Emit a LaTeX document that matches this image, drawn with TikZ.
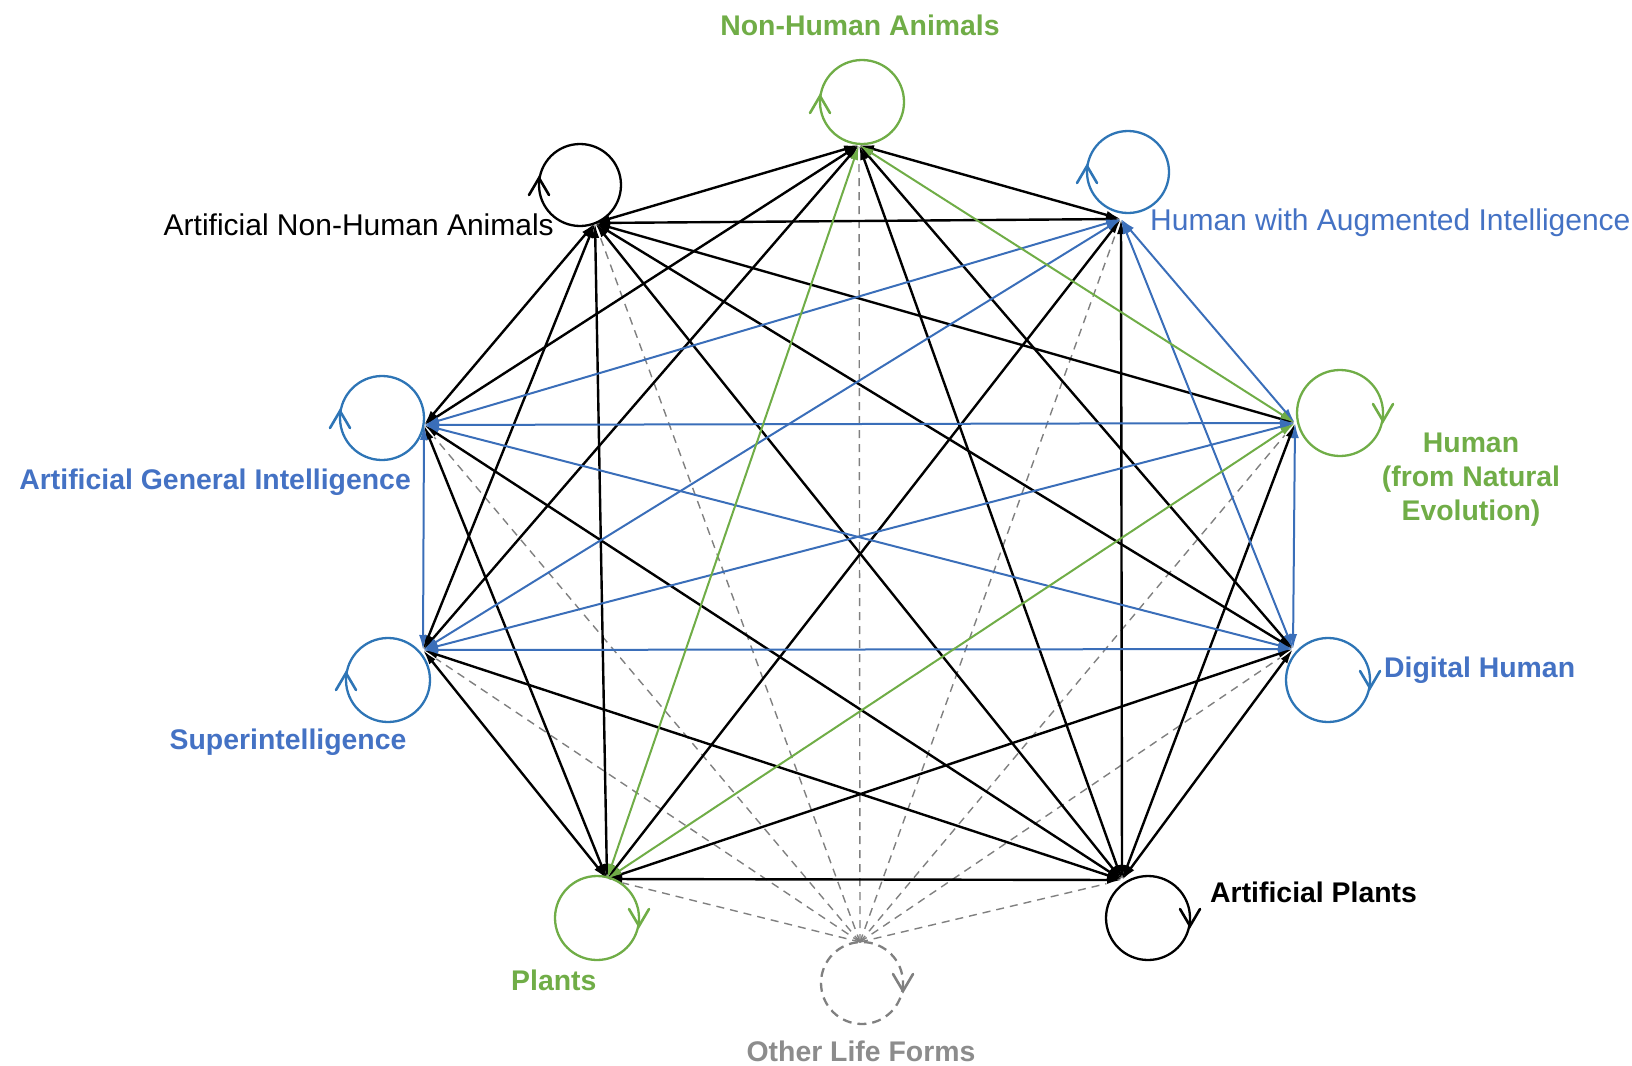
\documentclass[tikz,border=0pt]{standalone}
\usepackage{fontspec}
\setmainfont{Liberation Sans}
\usetikzlibrary{arrows.meta}
\definecolor{cgreen}{RGB}{112,173,71}
\definecolor{cblue}{RGB}{68,114,196}
\definecolor{lblue}{RGB}{58,110,185}
\definecolor{loopblue}{RGB}{46,117,182}
\definecolor{cgray}{RGB}{128,128,128}
\definecolor{tgray}{RGB}{140,140,140}
\tikzset{
  tip/.tip={Latex[length=15pt,width=8pt]},
  blk/.style={draw=black, line width=2.4pt, tip-tip},
  blu/.style={draw=lblue, line width=2pt, tip-tip},
  grn/.style={draw=cgreen, line width=2pt, tip-tip},
  dsh/.style={draw=cgray, line width=1.4pt, dash pattern=on 8pt off 6pt, shorten >=16pt},
  loopline/.style={line width=2.3pt},
  vmark/.style={line width=2.6pt, line cap=round, line join=miter},
  lbold/.style={font=\fontsize{28.4}{34}\selectfont\bfseries, inner sep=0pt},
  lreg/.style={font=\fontsize{30}{36}\selectfont, inner sep=0pt},
}
% open V arrow marks: up-pointing and down-pointing at the given tip
\newcommand\myupv[3]{\draw[vmark,#3] ({#1-10},{#2+17}) -- (#1,#2) -- ({#1+10},{#2+17});}
\newcommand\mydownv[3]{\draw[vmark,#3] ({#1-10},{#2-17}) -- (#1,#2) -- ({#1+10},{#2-17});}
\begin{document}
\begin{tikzpicture}[x=1pt,y=-1pt]
\useasboundingbox (0,0) rectangle (1632,1065);
% vertices
\coordinate (nha) at (859,145);
\coordinate (hai) at (1121,219);
\coordinate (hum) at (1295,423);
\coordinate (dh) at (1293,649);
\coordinate (ap) at (1122,880);
\coordinate (oth) at (860,942);
\coordinate (pl) at (607,879);
\coordinate (si) at (423,650);
\coordinate (agi) at (424,425);
\coordinate (anha) at (595,223);
% dashed edges from other life forms
\foreach \v in {nha,hai,hum,dh,ap,pl,si,agi,anha}
  \draw[dsh] (oth) -- (\v);
% black edges
\draw[blk] (nha) -- (hai);
\draw[blk] (nha) -- (dh);
\draw[blk] (nha) -- (ap);
\draw[blk] (nha) -- (si);
\draw[blk] (nha) -- (agi);
\draw[blk] (nha) -- (anha);
\draw[blk] (hai) -- (ap);
\draw[blk] (hai) -- (pl);
\draw[blk] (hai) -- (anha);
\draw[blk] (hum) -- (ap);
\draw[blk] (hum) -- (anha);
\draw[blk] (dh) -- (ap);
\draw[blk] (dh) -- (pl);
\draw[blk] (dh) -- (anha);
\draw[blk] (ap) -- (pl);
\draw[blk] (ap) -- (si);
\draw[blk] (ap) -- (agi);
\draw[blk] (ap) -- (anha);
\draw[blk] (pl) -- (si);
\draw[blk] (pl) -- (agi);
\draw[blk] (pl) -- (anha);
\draw[blk] (si) -- (anha);
\draw[blk] (agi) -- (anha);
% blue edges
\draw[blu] (hai) -- (hum);
\draw[blu] (hai) -- (dh);
\draw[blu] (hai) -- (si);
\draw[blu] (hai) -- (agi);
\draw[blu] (hum) -- (dh);
\draw[blu] (hum) -- (si);
\draw[blu] (hum) -- (agi);
\draw[blu] (dh) -- (si);
\draw[blu] (dh) -- (agi);
\draw[blu] (si) -- (agi);
% green edges
\draw[grn] (nha) -- (hum);
\draw[grn] (nha) -- (pl);
\draw[grn] (hum) -- (pl);
% self loops
\draw[loopline, cgreen] (862,102) circle (42);
\myupv{820}{96}{cgreen}
\draw[loopline, loopblue] (1128,172) circle (41);
\myupv{1087}{166}{loopblue}
\draw[loopline, cgreen] (1340,413) circle (43);
\mydownv{1383}{421}{cgreen}
\draw[loopline, loopblue] (1328,680) circle (42);
\mydownv{1370}{688}{loopblue}
\draw[loopline, black] (1148,918) circle (42);
\mydownv{1190}{926}{black}
\draw[loopline, cgray, dash pattern=on 9pt off 6pt] (862,983) circle (41);
\mydownv{903}{991}{cgray}
\draw[loopline, cgreen] (597,918) circle (42);
\mydownv{639}{926}{cgreen}
\draw[loopline, loopblue] (388,680) circle (42);
\myupv{346}{673}{loopblue}
\draw[loopline, loopblue] (382,418) circle (42);
\myupv{340}{411}{loopblue}
\draw[loopline, black] (580,185) circle (41);
\myupv{539}{178}{black}
% labels
\node[lbold, text=cgreen, anchor=base] (tnha) at (860,36) {Non-Human Animals};
\node[lreg, text=black, anchor=base east] (tanha) at (554,235) {Artificial Non-Human Animals};
\node[lreg, text=cblue, anchor=base west] (thai) at (1150,230) {Human with Augmented Intelligence};
\node[lbold, text=cblue, anchor=base east] (tagi) at (411,489) {Artificial General Intelligence};
\node[lbold, text=cgreen, align=center, anchor=north] (thum) at (1471,433) {Human\\(from Natural\\Evolution)};
\node[lbold, text=cblue, anchor=base west] (tdh) at (1384,677) {Digital Human};
\node[lbold, text=black, anchor=base west] (tap) at (1210,902) {Artificial Plants};
\node[lbold, text=cgreen, anchor=base west] (tpl) at (511,990) {Plants};
\node[lbold, text=tgray, anchor=base] (toth) at (861,1061) {Other Life Forms};
\node[lbold, text=cblue, anchor=base] (tsi) at (288,749) {Superintelligence};
\end{tikzpicture}
\end{document}
